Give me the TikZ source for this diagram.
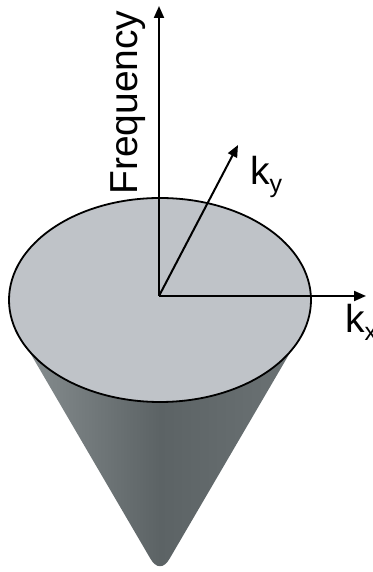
\documentclass[tikz,border=0pt]{standalone}
\usepackage{fontspec}
\setmainfont{Liberation Sans}
\usetikzlibrary{arrows.meta}

\definecolor{topgray}{HTML}{BFC3C8}
\definecolor{conemid}{HTML}{5C6365}
\definecolor{coneleft}{HTML}{858C8E}
\definecolor{coneright}{HTML}{6B7274}

\newcommand*{\bigfont}{\fontsize{39}{44}\selectfont}
\newcommand*{\subfont}{\fontsize{25}{28}\selectfont}
\newcommand*{\klabel}[1]{k\raisebox{-8pt}{\subfont #1}}

\begin{document}
\begin{tikzpicture}
[
	x=1pt,y=1pt,
	axis/.style={line width=2pt,-{Triangle[length=12pt,width=10pt]}},
	lbl/.style={inner sep=0pt,font=\bigfont}
]
	\useasboundingbox (0,0) rectangle (372,572);

	% cone
	\shade[left color=coneleft,right color=coneright,middle color=conemid]
		(29,221) -- (150,14) .. controls (156,3) and (164,3) .. (170,14) -- (291,221) -- (160,272) -- cycle;

	% top disk
	\draw[line width=1.8pt,fill=topgray] (160,272) ellipse [x radius=151,y radius=102];

	% axes
	\coordinate (o) at (159,276);
	\coordinate (f) at (159,566);
	\coordinate (kx) at (366,276);
	\coordinate (ky) at (238,427);
	\draw[axis] (o) -- (f);
	\draw[axis] (o) -- (kx);
	\draw[axis] (o) -- (ky);

	\node[lbl,rotate=90,anchor=base west] (freq) at (137,377) {Frequency};
	\node[lbl,anchor=base west] (kylbl) at (250,387) {\klabel{y}};
	\node[lbl,anchor=base west] (kxlbl) at (345,239) {\klabel{x}};

\end{tikzpicture}
\end{document}
